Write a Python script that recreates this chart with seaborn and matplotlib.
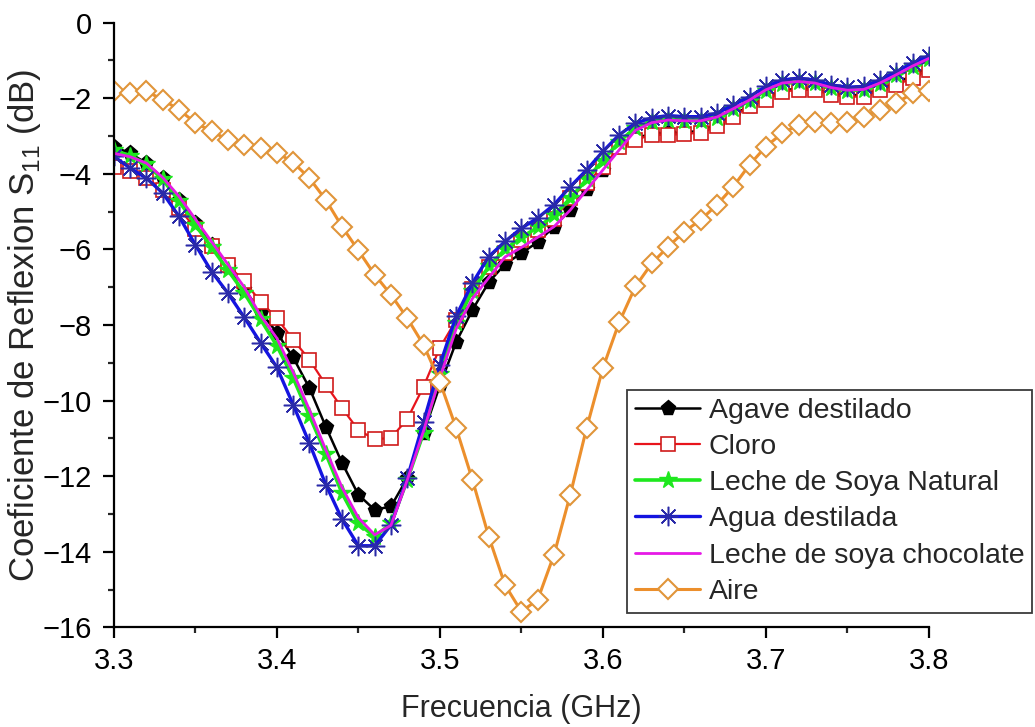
import numpy as np
import pandas as pd
import matplotlib
matplotlib.use("Agg")
import matplotlib.pyplot as plt
import seaborn as sns

# Frequency grid (GHz), one sample every 10 MHz
freq = np.round(np.linspace(3.30, 3.80, 51), 2)

agave_destilado = [
    -3.28, -3.46, -3.72, -4.12, -4.69, -5.31, -5.88, -6.46, -7.05, -7.65,
    -8.20, -8.86, -9.67, -10.69, -11.65, -12.49, -12.89, -12.80, -12.05, -10.86,
    -9.60, -8.45, -7.60, -6.87, -6.39, -6.10, -5.81, -5.40, -4.95, -4.40,
    -3.90, -3.30, -3.05, -2.95, -2.92, -2.92, -2.85, -2.70, -2.45, -2.20,
    -1.98, -1.80, -1.74, -1.76, -1.88, -1.93, -1.92, -1.76, -1.60, -1.40,
    -1.18,
]

cloro = [
    -3.81, -3.94, -4.10, -4.43, -4.91, -5.45, -5.90, -6.41, -6.85, -7.38,
    -7.82, -8.39, -8.92, -9.58, -10.20, -10.78, -11.02, -10.99, -10.49, -9.63,
    -8.60, -7.87, -7.05, -6.46, -6.10, -5.75, -5.48, -5.20, -4.65, -4.25,
    -3.81, -3.30, -3.10, -2.97, -2.97, -2.95, -2.91, -2.75, -2.49, -2.22,
    -2.04, -1.83, -1.78, -1.78, -1.91, -1.96, -1.96, -1.78, -1.65, -1.47,
    -1.25,
]

leche_soya_natural = [
    -3.38, -3.52, -3.75, -4.15, -4.72, -5.35, -5.95, -6.55, -7.15, -7.85,
    -8.55, -9.40, -10.40, -11.40, -12.45, -13.25, -13.60, -13.25, -12.10, -10.85,
    -9.30, -7.95, -7.10, -6.45, -6.00, -5.68, -5.42, -5.10, -4.65, -4.15,
    -3.65, -3.15, -2.78, -2.62, -2.58, -2.60, -2.60, -2.52, -2.30, -2.07,
    -1.80, -1.62, -1.57, -1.60, -1.74, -1.80, -1.78, -1.62, -1.40, -1.17,
    -0.97,
]

agua_destilada = [
    -3.54, -3.85, -4.12, -4.51, -5.13, -5.88, -6.59, -7.16, -7.80, -8.47,
    -9.12, -10.11, -11.13, -12.22, -13.14, -13.84, -13.84, -13.29, -12.05, -10.56,
    -9.06, -7.76, -6.89, -6.19, -5.79, -5.44, -5.17, -4.82, -4.34, -3.90,
    -3.41, -2.97, -2.66, -2.52, -2.46, -2.49, -2.49, -2.40, -2.18, -1.96,
    -1.69, -1.52, -1.47, -1.52, -1.65, -1.71, -1.69, -1.52, -1.30, -1.07,
    -0.88,
]

leche_soya_chocolate = [
    -3.46, -3.55, -3.72, -4.10, -4.60, -5.20, -5.80, -6.40, -7.00, -7.75,
    -8.35, -9.25, -10.25, -11.30, -12.30, -13.10, -13.55, -13.30, -12.10, -10.80,
    -9.40, -8.10, -7.30, -6.75, -6.20, -5.95, -5.68, -5.40, -4.96, -4.43,
    -3.90, -3.37, -2.85, -2.65, -2.58, -2.60, -2.60, -2.50, -2.28, -2.05,
    -1.78, -1.60, -1.56, -1.60, -1.72, -1.79, -1.77, -1.60, -1.38, -1.15,
    -0.95,
]

aire = [
    -1.82, -1.87, -1.82, -2.04, -2.31, -2.65, -2.88, -3.10, -3.24, -3.32,
    -3.44, -3.70, -4.12, -4.69, -5.40, -6.03, -6.67, -7.20, -7.82, -8.53,
    -9.50, -10.73, -12.10, -13.60, -14.88, -15.58, -15.27, -14.08, -12.49, -10.73,
    -9.14, -7.93, -6.98, -6.37, -5.93, -5.53, -5.22, -4.82, -4.34, -3.76,
    -3.28, -2.93, -2.71, -2.62, -2.66, -2.62, -2.49, -2.31, -2.13, -1.87,
    -1.80,
]

series_names = [
    "Agave destilado",
    "Cloro",
    "Leche de Soya Natural",
    "Agua destilada",
    "Leche de soya chocolate",
    "Aire",
]
series_values = [
    agave_destilado,
    cloro,
    leche_soya_natural,
    agua_destilada,
    leche_soya_chocolate,
    aire,
]

x_ticks = [3.3, 3.4, 3.5, 3.6, 3.7, 3.8]
y_ticks = [0, -2, -4, -6, -8, -10, -12, -14, -16]

# Long-form table for seaborn
df = pd.concat(
    [pd.DataFrame({"freq": freq, "s11": vals, "muestra": name})
     for name, vals in zip(series_names, series_values)],
    ignore_index=True,
)

sns.set_theme(style="ticks")
plt.rcParams["font.family"] = ["Liberation Sans", "DejaVu Sans"]
plt.rcParams["mathtext.fontset"] = "custom"
plt.rcParams["mathtext.rm"] = "Liberation Sans"

styles = {
    "Agave destilado": dict(color="black", lw=1.8, marker="p", ms=11,
                            mfc="black", mec="black", mew=1.0),
    "Cloro": dict(color="#e8141c", lw=1.6, marker="s", ms=10.5,
                  mfc="white", mec="#d01a1a", mew=1.2),
    "Leche de Soya Natural": dict(color="#1ee81e", lw=2.6, marker="*", ms=13,
                                  mfc="#1ee81e", mec="#1ee81e", mew=1.0),
    "Agua destilada": dict(color="#1414e0", lw=2.4, marker=(8, 2, 0), ms=14,
                           mfc="#2a2aa8", mec="#2a2aa8", mew=1.1),
    "Leche de soya chocolate": dict(color="#e619e6", lw=2.0, marker=None),
    "Aire": dict(color="#ec8f2c", lw=2.2, marker="D", ms=10,
                 mfc="white", mec="#e0953a", mew=1.5),
}

fig = plt.figure(figsize=(10.35, 7.27), dpi=100)
ax = fig.add_axes([0.110, 0.137, 0.7875, 0.832])

for name in series_names:
    st = dict(styles[name])
    sub = df[df["muestra"] == name]
    sns.lineplot(data=sub, x="freq", y="s11", ax=ax, label=name,
                 color=st.pop("color"), linewidth=st.pop("lw"),
                 marker=st.pop("marker"),
                 markersize=st.pop("ms", None) or 0,
                 markerfacecolor=st.pop("mfc", "none"),
                 markeredgecolor=st.pop("mec", "none"),
                 markeredgewidth=st.pop("mew", 0))

ax.set_xlim(3.3, 3.8)
ax.set_ylim(-16, 0)
ax.set_xticks(x_ticks)
ax.set_yticks(y_ticks)
ax.set_xticks(np.arange(3.35, 3.8, 0.1), minor=True)
ax.set_yticks(np.arange(-15, 0, 2), minor=True)
ax.set_xticklabels([f"{v:.1f}" for v in x_ticks])
ax.set_yticklabels([f"{v:d}" if v >= 0 else f"\u2212{abs(v):d}" for v in y_ticks])

for side in ("top", "right"):
    ax.spines[side].set_visible(False)
for side in ("left", "bottom"):
    ax.spines[side].set_linewidth(1.6)
    ax.spines[side].set_color("black")

ax.tick_params(axis="both", which="major", direction="out", length=8,
               width=1.6, labelsize=21, colors="black", pad=6)
ax.tick_params(axis="y", which="major", pad=8)
ax.tick_params(axis="both", which="minor", direction="out", length=4.5,
               width=1.6)

ax.set_xlabel("Frecuencia (GHz)", fontsize=22, labelpad=14)
ax.set_ylabel(r"Coeficiente de Reflexion S$_{\mathregular{11}}$ (dB)",
              fontsize=25)
ax.yaxis.set_label_coords(-0.087, 0.5)

leg = ax.legend(loc="upper right", bbox_to_anchor=(1.127, 0.393),
                borderaxespad=0, fontsize=20.5, numpoints=1,
                handlelength=2.3, handletextpad=0.3, labelspacing=0.36,
                borderpad=0.28, frameon=True, fancybox=False)
leg.get_frame().set_edgecolor("#3a3a3a")
leg.get_frame().set_linewidth(1.3)
leg.get_frame().set_alpha(1)

fig.savefig("out.png", dpi=100, facecolor="white")
